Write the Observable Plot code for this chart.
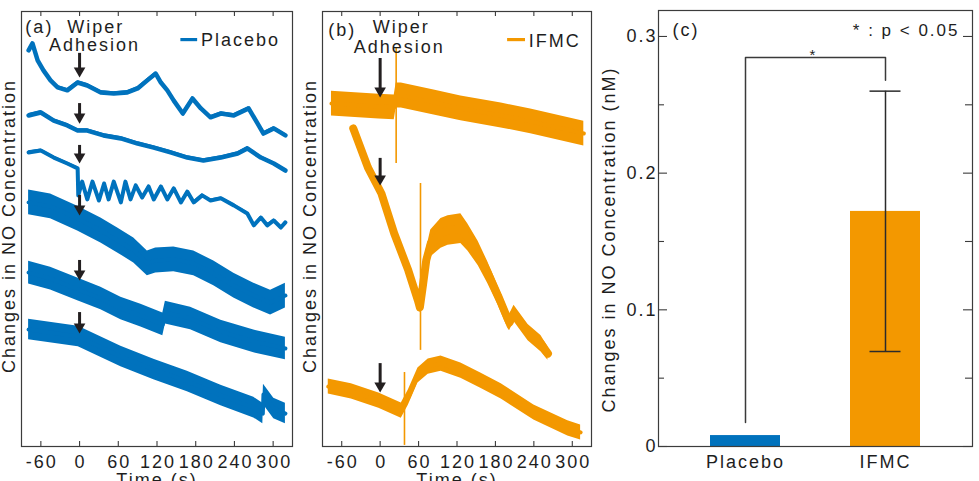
<!DOCTYPE html>
<html>
<head>
<meta charset="utf-8">
<script src="https://cdn.jsdelivr.net/npm/d3@7"></script>
<script src="https://cdn.jsdelivr.net/npm/@observablehq/plot@0.6"></script>
<style>
  html, body { margin: 0; padding: 0; background: #fff; }
  #fig { position: relative; width: 979px; height: 481px; overflow: hidden; }
  #fig svg { position: absolute; top: 0; overflow: visible; }
</style>
</head>
<body>
<div id="fig"></div>
<script>
// ---------- recorded traces: [time (s), NO change (nM, stacked offset)] ----------
const timeTicks = [-60, 0, 60, 120, 180, 240, 300];

const placebo1 = [[-79,1.467],[-73,1.493],[-65,1.430],[-56,1.393],[-45,1.356],[-34,1.330],[-19,1.319],[-3,1.348],[12,1.337],[33,1.311],[53,1.307],[74,1.311],[90,1.326],[105,1.356],[118,1.381],[126,1.348],[136,1.319],[146,1.281],[160,1.233],[175,1.289],[188,1.252],[203,1.219],[219,1.233],[239,1.226],[262,1.252],[276,1.196],[285,1.159],[301,1.178],[319,1.152]];
const placebo2 = [[-79,1.226],[-60,1.237],[-40,1.207],[-19,1.189],[-3,1.170],[12,1.170],[37,1.152],[64,1.141],[90,1.122],[115,1.107],[141,1.089],[167,1.070],[192,1.059],[219,1.070],[245,1.085],[260,1.104],[281,1.070],[301,1.048],[319,1.022]];
const placebo3 = [[-79,1.089],[-60,1.096],[-40,1.070],[-19,1.048],[-3,1.030],[-2,0.930],[4,0.981],[12,0.915],[20,0.981],[30,0.911],[38,0.974],[45,0.915],[53,0.981],[64,0.904],[71,0.981],[79,0.915],[87,0.967],[97,0.922],[107,0.963],[115,0.915],[126,0.963],[136,0.915],[146,0.956],[157,0.904],[167,0.944],[177,0.904],[190,0.930],[203,0.911],[219,0.919],[239,0.893],[260,0.863],[270,0.819],[281,0.848],[291,0.819],[301,0.837],[312,0.811],[319,0.830]];
const placebo4 = [[-79,0.904],[-45,0.889],[-3,0.844],[33,0.800],[59,0.763],[84,0.726],[105,0.678],[118,0.689],[146,0.693],[177,0.678],[208,0.641],[239,0.596],[270,0.559],[296,0.533],[319,0.559]];
const placebo5 = [[-79,0.644],[-45,0.622],[-2,0.581],[33,0.548],[64,0.511],[95,0.485],[129,0.452],[133,0.496],[172,0.474],[219,0.426],[270,0.389],[319,0.363]];
const placebo6 = [[-79,0.433],[-2,0.407],[64,0.333],[115,0.285],[167,0.241],[219,0.189],[270,0.144],[284,0.122],[285,0.193],[301,0.141],[319,0.122]];

const ifmc1 = [[-76,1.270],[-2,1.259],[22,1.256],[25,1.300],[33,1.300],[84,1.274],[126,1.252],[189,1.226],[235,1.204],[318,1.159]];
// third value: local noise half-width (nM)
const ifmc2 = [[-42,1.178,0.012],[-19,1.033,0.012],[2,0.937,0.012],[22,0.789,0.012],[44,0.652,0.012],[59,0.541,0.015],[62,0.515,0.02],[67,0.600,0.03],[72,0.690,0.04],[79,0.752,0.05],[95,0.789,0.055],[106,0.800,0.055],[126,0.807,0.055],[137,0.774,0.05],[153,0.715,0.045],[168,0.644,0.04],[184,0.559,0.035],[199,0.474,0.035],[202,0.459,0.03],[209,0.493,0.03],[231,0.422,0.03],[251,0.381,0.03],[262,0.344,0.025]];
const ifmc3 = [[-81,0.222],[-45,0.204],[-2,0.170],[33,0.133],[44,0.181],[59,0.263],[75,0.296],[95,0.307],[126,0.281],[157,0.244],[189,0.204],[240,0.126],[293,0.067],[313,0.052]];

// noise half-width per trace (nM) and drawn core width (px)
const placeboSpread = [0.007, 0.007, 0.006, 0.046, 0.042, 0.038];
const placeboCore = [4.5, 4.5, 4, 4, 4, 4];
const ifmcSpread = [0.046, 0.02, 0.028];
const ifmcCore = [4, 8, 4];

// wiper adhesion markers at t = 0: [tail, tip] (nM)
const placeboArrows = [[1.456,1.367],[1.270,1.196],[1.115,1.048],[0.930,0.856],[0.689,0.615],[0.496,0.419]];
const ifmcArrows = [[1.437,1.293],[1.067,0.967],[0.307,0.200]];
// transient artefacts: [time, top, bottom] (nM)
const ifmcSpikes = [[25,1.474,1.048],[63,0.974,0.356],[38,0.274,0.004]];

// ---------- summary ----------
const groups = ["Placebo", "IFMC"];
const groupMeans = [0.008, 0.172];
const groupColors = ["#0072BD", "#F39800"];
const ifmcErrorRange = [0.0695, 0.26];
const bracketTop = 0.2846;
const bracketLegEnds = [0.0176, 0.268];
const concTicks = [0, 0.1, 0.2, 0.3];
const concMinorTicks = [0.05, 0.15, 0.25];

const BLUE = groupColors[0], ORANGE = groupColors[1];
const INK = "#231f20", FRAME = "#3c3c3c";
const baseStyle = {
  fontFamily: '"Liberation Sans", Arial, sans-serif',
  fontSize: "18px",
  letterSpacing: "2px",
  color: "#1e1e1e",
  background: "transparent",
  overflow: "visible"
};

function tracePanel({traces, spreads, cores, color, arrows, spikes, marginLeft, marginRight, texts, legend}) {
  const marks = [];
  traces.forEach((tr, i) => {
    const s = (d) => (d[2] !== undefined ? d[2] : spreads[i]);
    marks.push(Plot.areaY(tr, {x: d => d[0], y1: d => d[1] - s(d), y2: d => d[1] + s(d), fill: color}));
    marks.push(Plot.line(tr, {x: d => d[0], y: d => d[1], stroke: color, strokeWidth: cores[i], strokeLinejoin: "round"}));
  });
  if (spikes) marks.push(Plot.ruleX(spikes, {x: d => d[0], y1: d => d[1], y2: d => d[2], stroke: color, strokeWidth: 1.6}));
  // arrows
  marks.push(Plot.ruleX(arrows, {x: () => 0, y1: d => d[0], y2: d => d[1], stroke: INK, strokeWidth: 3, insetBottom: 7}));
  marks.push(Plot.dot(arrows, {x: () => 0, y: d => d[1], symbol: "triangle", r: 4.3, rotate: 180, fill: INK, stroke: "none", dy: -6.6}));
  // frame and inward ticks
  marks.push(Plot.frame({stroke: FRAME, strokeWidth: 1.2}));
  marks.push(Plot.tickX(timeTicks, {x: d => d, stroke: FRAME, strokeWidth: 1.1, insetTop: 430}));
  marks.push(Plot.tickX(timeTicks, {x: d => d, stroke: FRAME, strokeWidth: 1.1, insetBottom: 430}));
  marks.push(Plot.text(timeTicks, {x: d => d, text: d => String(d), frameAnchor: "bottom", dy: 21, lineAnchor: "bottom", dx: 1}));
  marks.push(Plot.text(["Time (s)"], {frameAnchor: "bottom", dy: 39, lineAnchor: "bottom", textAnchor: "middle"}));
  marks.push(Plot.text(["Changes in NO Concentration"], {frameAnchor: "left", rotate: -90, dx: -12, dy: -3, textAnchor: "middle", lineAnchor: "middle"}));
  // legend
  marks.push(Plot.ruleY([legend.y], {x1: legend.x1, x2: legend.x2, y: d => d, stroke: color, strokeWidth: 3.2}));
  marks.push(Plot.text([legend.label], {x: legend.tx, y: legend.ty, textAnchor: "start", lineAnchor: "bottom"}));
  for (const t of texts) {
    marks.push(Plot.text([t.text], {x: t.x, y: t.y, textAnchor: t.anchor || "middle", lineAnchor: "bottom"}));
  }
  return Plot.plot({
    width: 300, height: 481,
    marginLeft, marginRight, marginTop: 11, marginBottom: 35,
    x: {domain: [-90, 330], axis: null},
    y: {domain: [0, 1.611], axis: null},
    style: baseStyle,
    marks
  });
}

const panelA = tracePanel({
  traces: [placebo1, placebo2, placebo3, placebo4, placebo5, placebo6],
  spreads: placeboSpread, cores: placeboCore, color: BLUE,
  arrows: placeboArrows, spikes: null,
  marginLeft: 21, marginRight: 8,
  legend: {label: "Placebo", x1: 157, x2: 183, y: 1.507, tx: 188, ty: 1.485},
  texts: [
    {text: "(a)", x: -84, y: 1.530, anchor: "start"},
    {text: "Wiper", x: 25, y: 1.533},
    {text: "Adhesion", x: 23, y: 1.463}
  ]
});
panelA.style.left = "0px";

const panelB = tracePanel({
  traces: [ifmc1, ifmc2, ifmc3],
  spreads: ifmcSpread, cores: ifmcCore, color: ORANGE,
  arrows: ifmcArrows, spikes: ifmcSpikes,
  marginLeft: 22, marginRight: 9,
  legend: {label: "IFMC", x1: 199, x2: 227, y: 1.507, tx: 232, ty: 1.481},
  texts: [
    {text: "(b)", x: -81, y: 1.522, anchor: "start"},
    {text: "Wiper", x: 33, y: 1.530},
    {text: "Adhesion", x: 30, y: 1.459}
  ]
});
panelB.style.left = "300px";

// ---------- panel (c): mean change per group ----------
const summary = groups.map((g, i) => ({group: g, mean: groupMeans[i], color: groupColors[i]}));
const bracketPath = [
  [groups[0], bracketLegEnds[0]], [groups[0], bracketTop],
  [groups[1], bracketTop], [groups[1], bracketLegEnds[1]]
];
const fmt = d => (d === 0 ? "0" : d.toFixed(1));

const panelC = Plot.plot({
  width: 379, height: 481,
  marginLeft: 58, marginRight: 7, marginTop: 10, marginBottom: 35,
  x: {type: "band", domain: groups, paddingInner: 0.5, paddingOuter: 0.371, axis: null},
  y: {domain: [0, 0.319], axis: null},
  color: {type: "identity"},
  style: baseStyle,
  marks: [
    Plot.barY(summary, {x: "group", y: "mean", fill: "color"}),
    Plot.ruleX([groups[1]], {x: d => d, y1: ifmcErrorRange[0], y2: ifmcErrorRange[1], stroke: "#2b2b2b", strokeWidth: 1.5}),
    Plot.tickY(ifmcErrorRange, {x: () => groups[1], y: d => d, stroke: "#2b2b2b", strokeWidth: 1.5, insetLeft: 19.5, insetRight: 19.5}),
    Plot.line(bracketPath, {x: d => d[0], y: d => d[1], stroke: "#3a3a3a", strokeWidth: 1.5}),
    Plot.text(["*"], {y: bracketTop, frameAnchor: "left", dx: 151, dy: 2, textAnchor: "start", lineAnchor: "bottom", fontSize: 15}),
    Plot.frame({stroke: FRAME, strokeWidth: 1.2}),
    Plot.tickY(concTicks, {y: d => d, stroke: FRAME, strokeWidth: 1.1, insetRight: 305}),
    Plot.tickY(concTicks, {y: d => d, stroke: FRAME, strokeWidth: 1.1, insetLeft: 305}),
    Plot.tickY(concMinorTicks, {y: d => d, stroke: FRAME, strokeWidth: 1.1, insetRight: 308}),
    Plot.tickY(concMinorTicks, {y: d => d, stroke: FRAME, strokeWidth: 1.1, insetLeft: 307}),
    Plot.text(concTicks, {y: d => d, text: fmt, frameAnchor: "left", textAnchor: "end", dx: -1, lineAnchor: "middle"}),
    Plot.text(groups, {x: d => d, text: d => d, frameAnchor: "bottom", dy: 21, lineAnchor: "bottom"}),
    Plot.text(["Changes in NO Concentration (nM)"], {frameAnchor: "left", rotate: -90, dx: -49, dy: 11, textAnchor: "middle", lineAnchor: "middle"}),
    Plot.text(["(c)"], {frameAnchor: "top-left", dx: 14, dy: 25, textAnchor: "start", lineAnchor: "bottom"}),
    Plot.text(["* : p < 0.05"], {frameAnchor: "top-right", dx: -13, dy: 25, textAnchor: "end", lineAnchor: "bottom", fontSize: 17})
  ]
});
panelC.style.left = "600px";

const fig = document.getElementById("fig");
fig.append(panelA, panelB, panelC);
</script>
</body>
</html>
